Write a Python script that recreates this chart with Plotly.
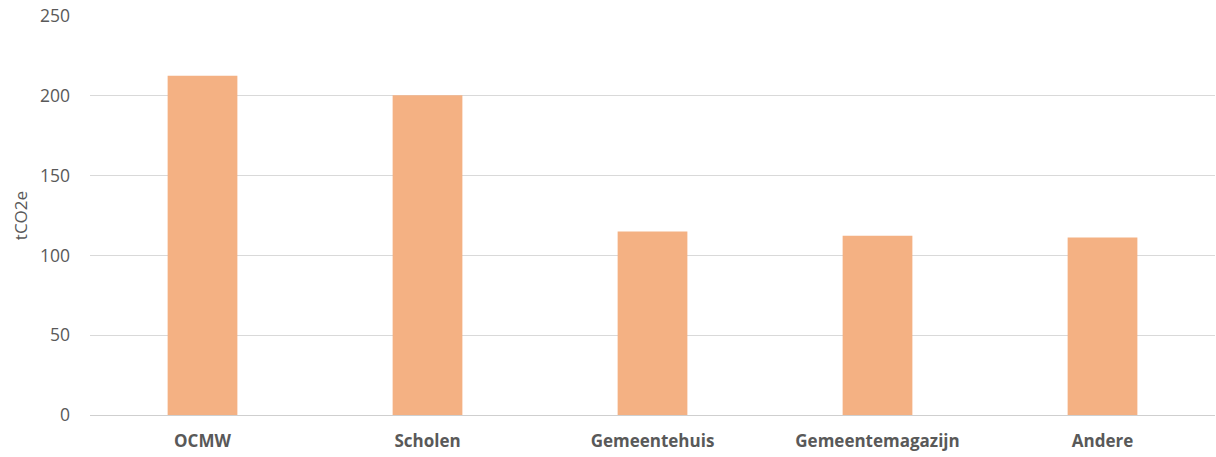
import plotly.graph_objects as go

# Emissions per building category (tonnes CO2-equivalent)
categories = ["OCMW", "Scholen", "Gemeentehuis", "Gemeentemagazijn", "Andere"]
emissions = [212.5, 200.3, 115.0, 112.3, 111.2]
y_ticks = [0, 50, 100, 150, 200, 250]

FONT = "Open Sans, sans-serif"

fig = go.Figure(
    go.Bar(
        x=categories,
        y=emissions,
        marker=dict(color="#f4b183", line=dict(width=0)),
    )
)

fig.update_layout(
    width=1216,
    height=457,
    margin=dict(l=90, r=1, t=16, b=42),
    paper_bgcolor="white",
    plot_bgcolor="white",
    bargap=0.69,
    showlegend=False,
    font=dict(family=FONT, color="#595959"),
)

fig.update_xaxes(
    showgrid=False,
    showline=False,
    ticks="",
    tickfont=dict(size=17, color="#595959", family=FONT, weight="bold"),
    ticklabelstandoff=14,
)

fig.update_yaxes(
    range=[0, 250],
    tickvals=y_ticks,
    showgrid=True,
    gridcolor="#d9d9d9",
    gridwidth=1,
    zeroline=True,
    zerolinecolor="#cfcfcf",
    zerolinewidth=1,
    showline=False,
    ticks="",
    tickfont=dict(size=17.5, color="#595959", family=FONT),
    ticklabelstandoff=19,
    title=dict(text="tCO2e", font=dict(size=17, color="#595959", family=FONT), standoff=8),
)

fig.write_html("out.html")
